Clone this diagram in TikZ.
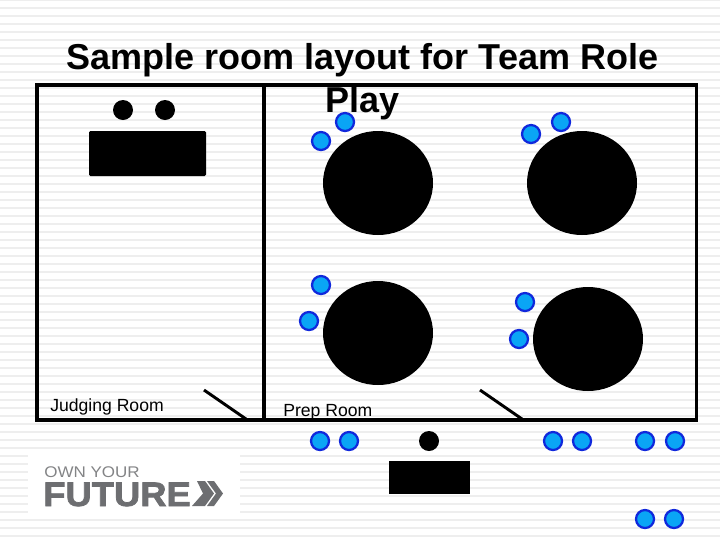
\documentclass[tikz,border=0pt]{standalone}
\usepackage{fontspec}
\setmainfont{Liberation Sans}
\newfontfamily\logofont[FakeBold=2.2,FakeStretch=1.07]{Liberation Sans Bold}
\newfontfamily\ownfont[FakeStretch=1.1]{Liberation Sans}
\definecolor{stripe}{HTML}{EEEEEE}
\definecolor{dotfill}{HTML}{0AA5F5}
\definecolor{dotline}{HTML}{1028DC}
\definecolor{logogray}{HTML}{6D6E71}
\tikzset{
  wall/.style={line width=2.5pt,black},
  door/.style={line width=2.2pt,black},
  bigblack/.style={fill=black,draw=none},
  person/.style={fill=dotfill,draw=dotline,line width=1.7pt},
  judge/.style={fill=black,draw=none},
  room/.style={font=\fontsize{13.2}{15}\selectfont,anchor=west,inner sep=0pt},
}
\begin{document}
\begin{tikzpicture}[x=0.75pt,y=-0.75pt]
\useasboundingbox (0,0) rectangle (720,540);
\fill[white] (0,0) rectangle (720,540);
\foreach \k in {0,...,68}{
  \fill[stripe] (0,{8*\k-1.5}) rectangle (720,{8*\k+0.5});
}
% logo plate
\fill[white] (28,451) rectangle (240,516);
% judges table
\fill[judge] (123,110) circle[radius=10];
\fill[judge] (165,110) circle[radius=10];
\fill[bigblack,rounded corners=1pt] (89,131) rectangle (206,176);
% tables
\fill[bigblack] (378,183) ellipse[x radius=55,y radius=52];
\fill[bigblack] (582,183) ellipse[x radius=55,y radius=52];
\fill[bigblack] (378,333) ellipse[x radius=55,y radius=52];
\fill[bigblack] (588,339) ellipse[x radius=55,y radius=52];
% rooms
\draw[wall] (37,85) rectangle (696.5,420);
\draw[wall] (264,85) -- (264,420);
\draw[door] (204,390) -- (246,419);
\draw[door] (480,390) -- (522,419);
% people
\foreach \px/\py in {345/122,321/141,531/134,561/122,321/285,309/321,525/302,519/339,320/441,349/441,553/441,582/441,645/441,675/441,645/519,674/519}{
  \draw[person] (\px,\py) circle[radius=9];
}
% registration desk
\fill[judge] (429,441) circle[radius=10];
\fill[bigblack] (389,461) rectangle (470,494);
% labels
\node[room] (judging) at (50,406.5) {Judging Room};
\node[room] (prep) at (283,412.5) {Prep Room};
\node[font=\bfseries\fontsize{27}{32.3}\selectfont,align=center,inner sep=0pt] (title) at (362.5,82) {Sample room layout for Team Role\\Play};
% logo
\node[anchor=base west,inner sep=0pt,text=logogray!85,font=\ownfont\fontsize{11.6}{12}\selectfont] (own) at (44,477) {OWN YOUR};
\node[anchor=base west,inner sep=0pt,text=logogray,font=\logofont\fontsize{25.5}{26}\selectfont] (future) at (43,506) {FUTURE};
\fill[logogray] (197,481) -- (205,481) -- (214,493.5) -- (205,506) -- (192,506) -- (203,493.5) -- cycle;
\fill[logogray] (207,481) -- (214,481) -- (223,493.5) -- (214,506) -- (207,506) -- (216,493.5) -- cycle;
\end{tikzpicture}
\end{document}
